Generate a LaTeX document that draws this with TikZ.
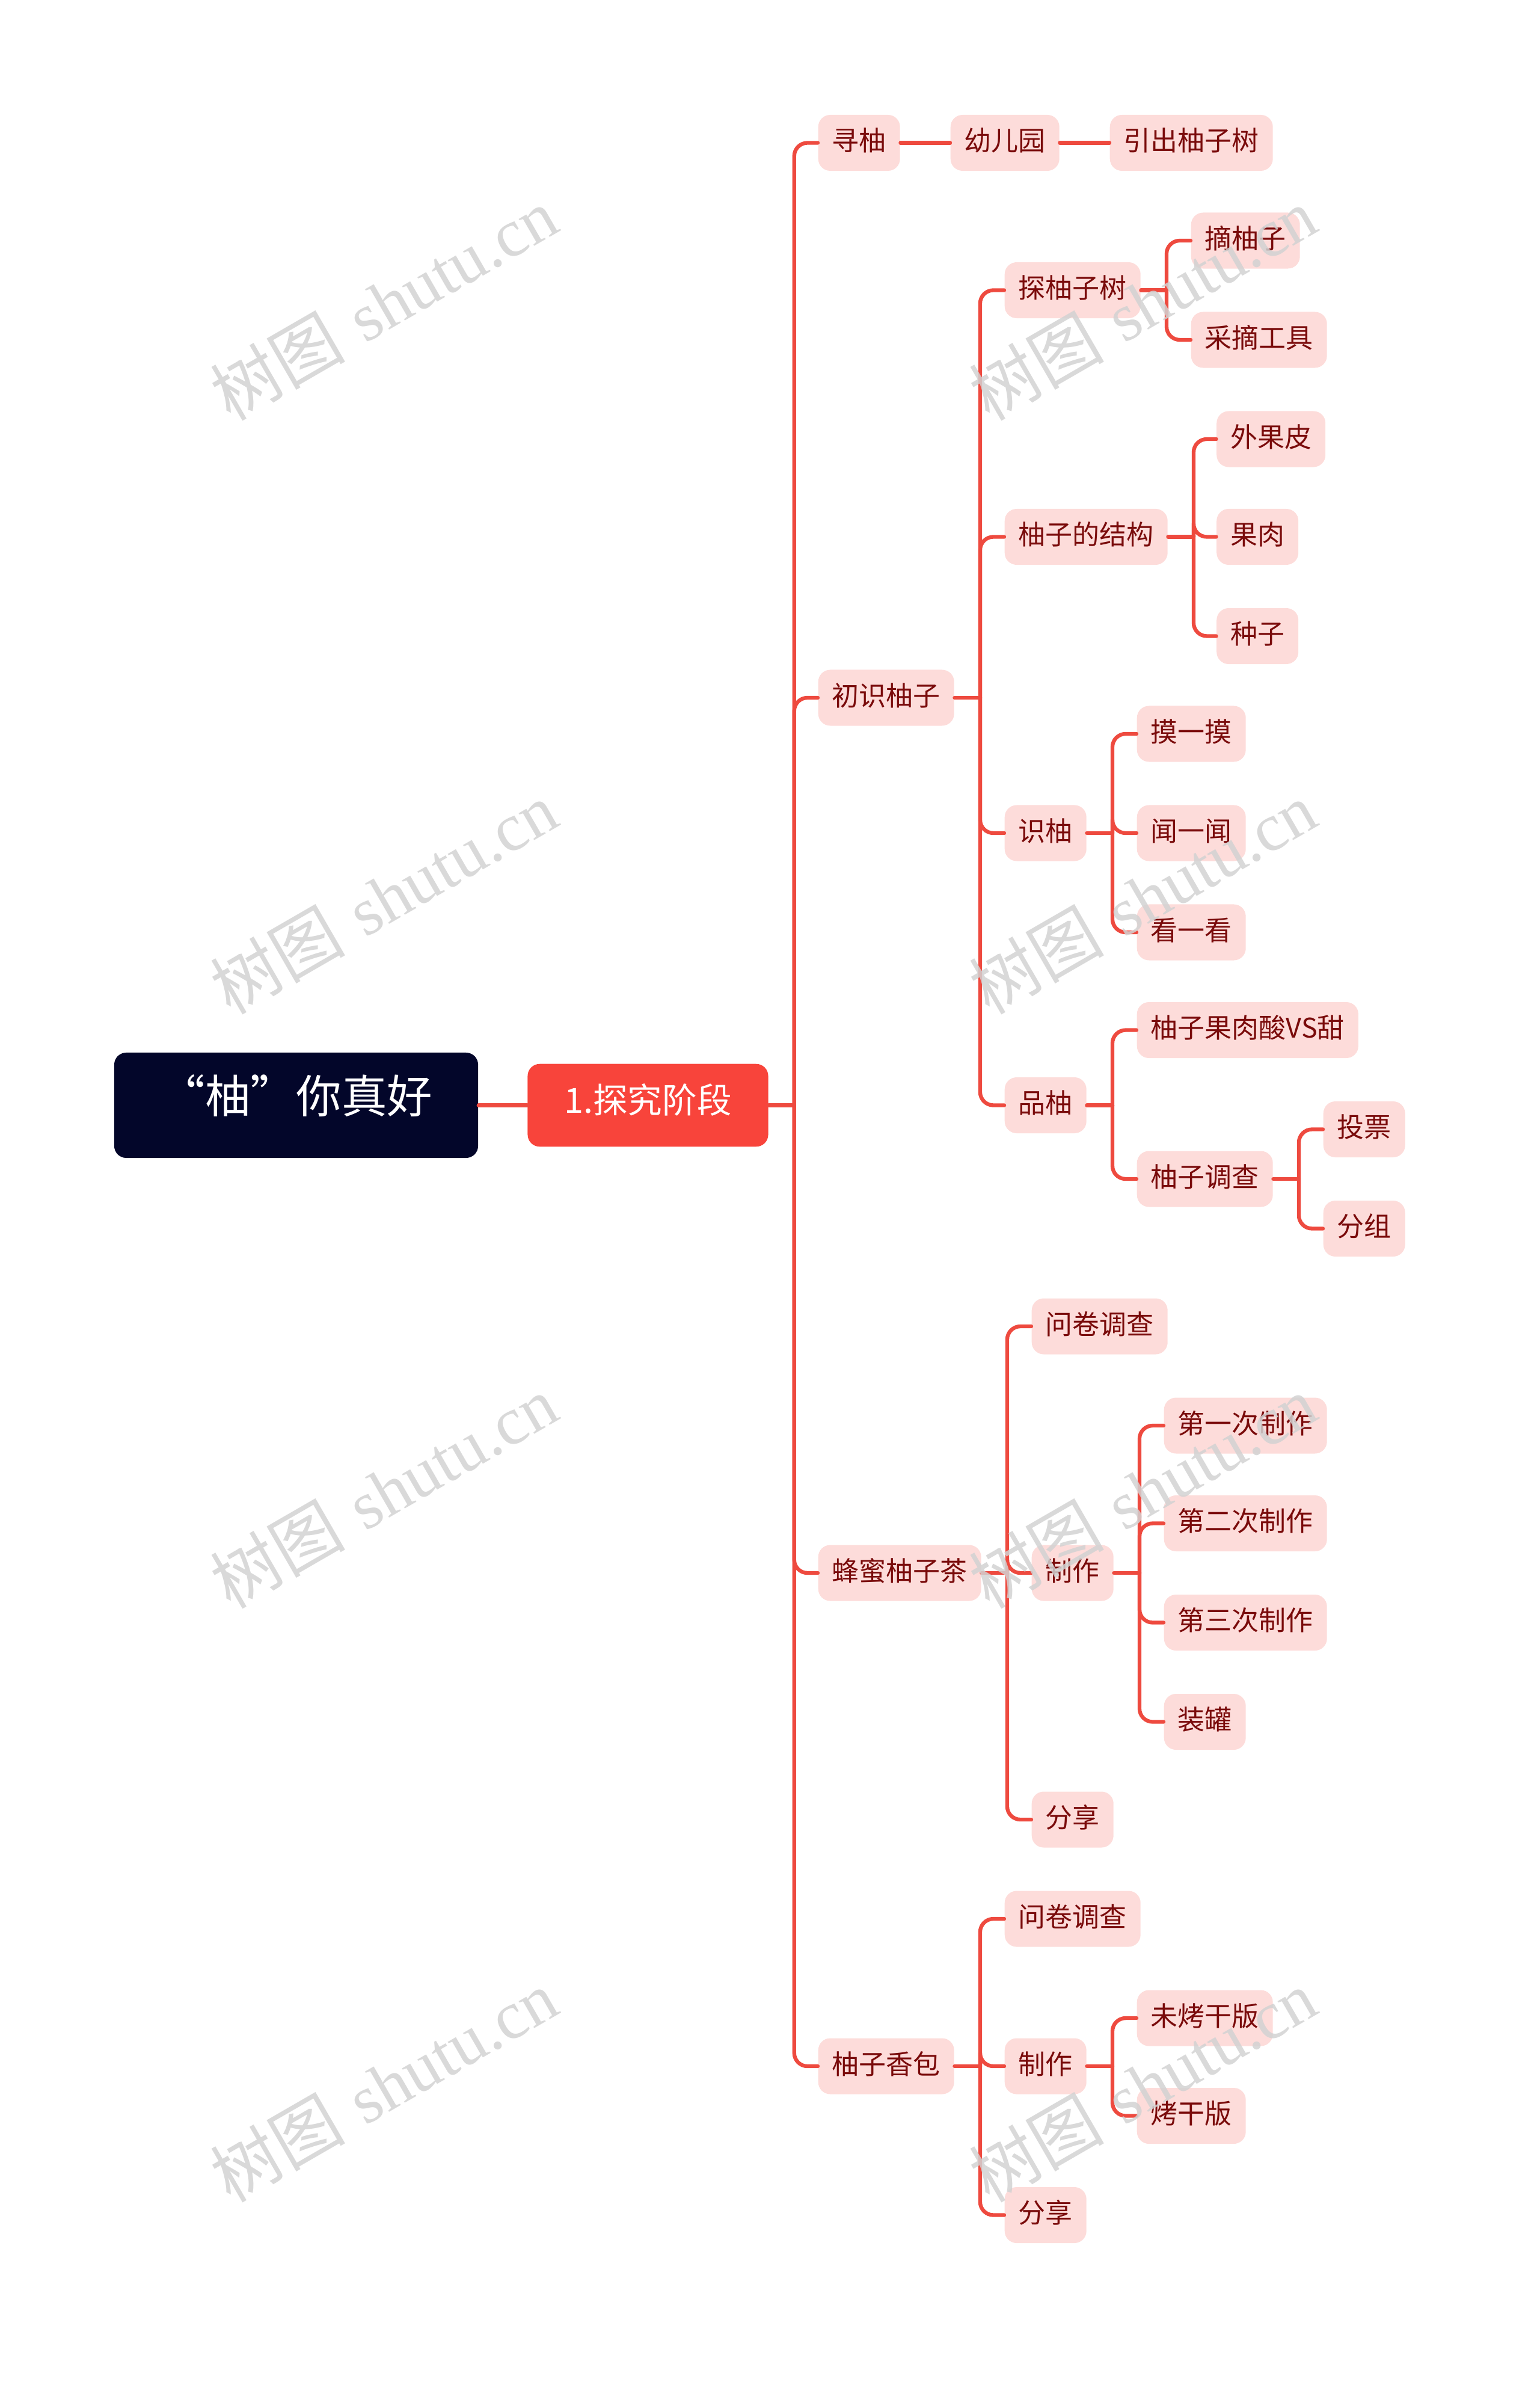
\documentclass[tikz,border=0pt]{standalone}
\usepackage{fontspec}
\newfontfamily\cjk{Noto Sans CJK SC}
\newfontfamily\wmlatin{Liberation Serif}
\definecolor{linkred}{HTML}{EE4A3F}
\definecolor{leafpink}{HTML}{FDDCDA}
\definecolor{leaftext}{HTML}{7A0B0B}
\definecolor{rootnavy}{HTML}{03062A}
\definecolor{stagered}{HTML}{F8443B}
\definecolor{wmgray}{HTML}{D2D2D2}
\begin{document}
\begin{tikzpicture}[x=0.025cm,y=-0.025cm,line join=round,line cap=round,
	leaf/.style={anchor=west,fill=leafpink,text=leaftext,rounded corners=0.2cm,
		font=\cjk\fontsize{12.8}{12.8}\selectfont,inner xsep=0.23cm,inner ysep=0pt,
		minimum height=0.93cm,text height=0.88em,text depth=0.12em},
	link/.style={draw=linkred,line width=1.8pt,rounded corners=0.22cm},
	wmtext/.style={text=wmgray,opacity=0.85,rotate=30,font=\fontsize{32}{32}\selectfont}]
	\useasboundingbox (0,0) rectangle (1024,1588);
	% centre and stage
	\node[fill=rootnavy,text=white,rounded corners=0.2cm,minimum width=6.05cm,minimum height=1.75cm,
		font=\cjk\fontsize{21.5}{21.5}\selectfont,text height=0.88em,text depth=0.12em] (root) at (197,735) {“柚”你真好};
	\node[fill=stagered,text=white,rounded corners=0.2cm,minimum width=4cm,minimum height=1.375cm,
		font=\cjk\fontsize{16.4}{16.4}\selectfont,text height=0.88em,text depth=0.12em] (stage) at (431,735) {1.探究阶段};
	% second level
	\node[leaf] (xun) at (544,95) {寻柚};
	\node[leaf] (csyz) at (544,464) {初识柚子};
	\node[leaf] (fmc) at (544,1046) {蜂蜜柚子茶};
	\node[leaf] (xb) at (544,1374) {柚子香包};
	% 寻柚
	\node[leaf] (yey) at (632,95) {幼儿园};
	\node[leaf] (ycs) at (738,95) {引出柚子树};
	% 初识柚子
	\node[leaf] (tyzs) at (668,193) {探柚子树};
	\node[leaf] (zyz) at (792,160) {摘柚子};
	\node[leaf] (czgj) at (792,226) {采摘工具};
	\node[leaf] (jg) at (668,357) {柚子的结构};
	\node[leaf] (wgp) at (809,292) {外果皮};
	\node[leaf] (gr) at (809,357) {果肉};
	\node[leaf] (zzi) at (809,423) {种子};
	\node[leaf] (sy) at (668,554) {识柚};
	\node[leaf] (mym) at (756,488) {摸一摸};
	\node[leaf] (wyw) at (756,554) {闻一闻};
	\node[leaf] (kyk) at (756,620) {看一看};
	\node[leaf] (py) at (668,735) {品柚};
	\node[leaf] (sst) at (756,685) {柚子果肉酸VS甜};
	\node[leaf] (dc) at (756,784) {柚子调查};
	\node[leaf] (tp) at (880,751) {投票};
	\node[leaf] (fz) at (880,817) {分组};
	% 蜂蜜柚子茶
	\node[leaf] (wja) at (686,882) {问卷调查};
	\node[leaf] (zza) at (686,1046) {制作};
	\node[leaf] (fxa) at (686,1210) {分享};
	\node[leaf] (dyc) at (774,948) {第一次制作};
	\node[leaf] (dec) at (774,1013) {第二次制作};
	\node[leaf] (dsc) at (774,1079) {第三次制作};
	\node[leaf] (zg) at (774,1145) {装罐};
	% 柚子香包
	\node[leaf] (wjb) at (668,1276) {问卷调查};
	\node[leaf] (zzb) at (668,1374) {制作};
	\node[leaf] (fxb) at (668,1473) {分享};
	\node[leaf] (wkg) at (756,1342) {未烤干版};
	\node[leaf] (kgb) at (756,1407) {烤干版};
	% connectors
	\draw[link] (root.east) -- (stage.west);
	\draw[link] (xun.east) -- (yey.west);
	\draw[link] (yey.east) -- (ycs.west);
	\foreach \p/\cs in {stage/{xun,csyz,fmc,xb},csyz/{tyzs,jg,sy,py},tyzs/{zyz,czgj},
		jg/{wgp,gr,zzi},sy/{mym,wyw,kyk},py/{sst,dc},dc/{tp,fz},fmc/{wja,zza,fxa},
		zza/{dyc,dec,dsc,zg},xb/{wjb,zzb,fxb},zzb/{wkg,kgb}}{
		\draw[link] (\p.east) -- ++(17,0);
		\foreach \c in \cs
		\draw[link] ([xshift=0.425cm]\p.east) |- (\c.west);
	}
	% watermark
	\foreach \wx in {255,760}
	\foreach \wy in {202,597,992,1387}
	\node[wmtext] (wm-\wx-\wy) at (\wx,\wy) {{\cjk 树图} \wmlatin shutu.cn};
\end{tikzpicture}
\end{document}
